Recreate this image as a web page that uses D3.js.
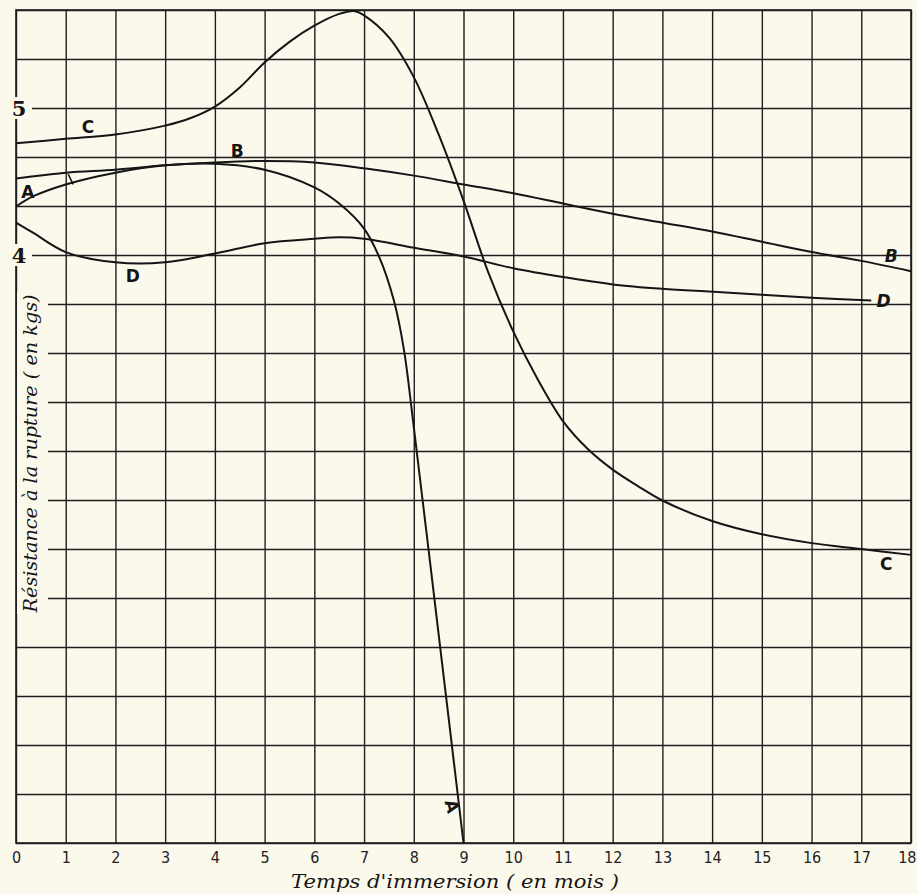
<!DOCTYPE html>
<html>
<head>
<meta charset="utf-8">
<script src="https://d3js.org/d3.v7.min.js"></script>
<style>
  body { margin: 0; background: #fbf9ec; }
  svg { display: block; }
  .grid line, .grid path { stroke: #1e1e1e; stroke-width: 1.4; }
  .curve { fill: none; stroke: #151515; stroke-width: 2; }
</style>
</head>
<body>
<div id="chart"></div>
<script>
//svg size
var svgWidth = 917;
var svgHeight = 894;

//plot box inside the svg
var margin = { top: 10, right: 6, bottom: 51, left: 16 };
var width = svgWidth - margin.left - margin.right;
var height = svgHeight - margin.top - margin.bottom;

//months on the x axis and the kg grid (every 1/3 kg)
var months = d3.range(0, 19);
var kgGrid = d3.range(0, 18).map(k => k / 3);
var kgLabels = [5, 4];

//curve A
var aMonths = [0, 0.35, 1, 2, 3, 4, 5, 6, 6.5, 7, 7.3, 7.6, 7.8, 8, 8.5, 9];
var aValues = [4.33, 4.40, 4.48, 4.56, 4.61, 4.62, 4.58, 4.46, 4.35, 4.18, 3.99, 3.69, 3.36, 2.83, 1.42, 0];

//curve B
var bMonths = d3.range(0, 19);
var bValues = [4.52, 4.56, 4.58, 4.61, 4.63, 4.64, 4.63, 4.59, 4.54, 4.48, 4.42, 4.35, 4.28, 4.22, 4.16, 4.09, 4.02, 3.96, 3.89];

//curve C
var cMonths = [0, 1, 2, 3, 3.5, 4, 4.5, 5, 5.5, 6, 6.5, 6.8, 7, 7.5, 8, 8.5, 9, 9.5, 10, 10.5, 11, 11.5, 12, 12.5, 13, 14, 15, 16, 17, 18];
var cValues = [4.76, 4.79, 4.82, 4.88, 4.93, 5.01, 5.14, 5.31, 5.45, 5.56, 5.64, 5.66, 5.63, 5.48, 5.21, 4.82, 4.37, 3.88, 3.48, 3.15, 2.87, 2.68, 2.54, 2.43, 2.33, 2.19, 2.10, 2.04, 2.00, 1.96];

//curve D
var dMonths = [0, 0.35, 1, 2, 3, 4, 5, 6, 6.5, 7, 8, 9, 10, 11, 12, 13, 14, 15, 16, 17.2];
var dValues = [4.22, 4.15, 4.02, 3.95, 3.95, 4.01, 4.08, 4.11, 4.12, 4.11, 4.05, 3.99, 3.91, 3.85, 3.80, 3.77, 3.75, 3.73, 3.71, 3.69];

//curve letters written on the chart
var letterText = ["A", "B", "C", "D", "B", "D", "C", "A"];
var letterMonth = [0.24, 4.45, 1.45, 2.35, 17.6, 17.45, 17.5, 8.77];
var letterValue = [4.43, 4.71, 4.87, 3.86, 3.99, 3.69, 1.9, 0.25];

var svg = d3.select("#chart")
    .append("svg")
    .attr("width", svgWidth)
    .attr("height", svgHeight);

svg.append("rect")
    .attr("width", svgWidth)
    .attr("height", svgHeight)
    .attr("fill", "#fbf9ec");

var chartGroup = svg.append("g")
    .attr("transform", `translate(${margin.left}, ${margin.top})`);

//scales
var xScale = d3.scaleLinear()
    .domain([0, 18])
    .range([0, width]);

var yScale = d3.scaleLinear()
    .domain([0, 17 / 3])
    .range([height, 0]);

//vertical grid + month labels
var bottomAxis = d3.axisBottom(xScale)
    .tickValues(months)
    .tickSize(-height)
    .tickPadding(9)
    .tickFormat(d3.format("d"));

var xAxis = chartGroup.append("g")
    .attr("class", "grid")
    .attr("transform", `translate(0, ${height})`)
    .call(bottomAxis);

xAxis.select(".domain").remove();
xAxis.selectAll("text")
    .attr("fill", "#222")
    .style("font-family", "'Liberation Sans Narrow', 'DejaVu Sans Condensed', sans-serif")
    .style("font-size", "16px");

//last label would fall off the page
xAxis.selectAll("text")
    .filter(d => d === 18)
    .attr("text-anchor", "end")
    .attr("dx", 5);

//horizontal grid
var leftAxis = d3.axisLeft(yScale)
    .tickValues(kgGrid)
    .tickSize(-width)
    .tickFormat("");

var yAxis = chartGroup.append("g")
    .attr("class", "grid")
    .call(leftAxis);

yAxis.select(".domain").remove();

//frame
chartGroup.append("rect")
    .attr("width", width)
    .attr("height", height)
    .attr("fill", "none")
    .attr("stroke", "#1e1e1e")
    .attr("stroke-width", 1.6);

//curves
var line = d3.line()
    .x(d => xScale(d[0]))
    .y(d => yScale(d[1]))
    .curve(d3.curveCatmullRom.alpha(0.5));

var curves = [
    d3.zip(aMonths, aValues),
    d3.zip(bMonths, bValues),
    d3.zip(cMonths, cValues),
    d3.zip(dMonths, dValues)
];

chartGroup.selectAll(".curve")
    .data(curves)
    .enter()
    .append("path")
    .attr("class", "curve")
    .attr("d", line);

//little pointer from B down to A near month 1
chartGroup.append("line")
    .attr("x1", xScale(1.05))
    .attr("y1", yScale(4.55))
    .attr("x2", xScale(1.15))
    .attr("y2", yScale(4.48))
    .attr("stroke", "#151515")
    .attr("stroke-width", 1.5);

//curve letters
chartGroup.selectAll(".letter")
    .data(letterText)
    .enter()
    .append("text")
    .attr("class", "letter")
    .attr("transform", (d, i) => `translate(${xScale(letterMonth[i])}, ${yScale(letterValue[i])})` + (i === 7 ? " rotate(75)" : ""))
    .attr("text-anchor", "middle")
    .attr("dy", "0.35em")
    .style("font-family", "'DejaVu Sans', sans-serif")
    .style("font-weight", "bold")
    .style("font-style", (d, i) => i >= 4 && i <= 5 ? "italic" : "normal")
    .style("font-size", "17px")
    .attr("fill", "#151515")
    .text(d => d);

//kg labels sit on the left edge with a paper patch behind
var kgGroup = chartGroup.selectAll(".kg")
    .data(kgLabels)
    .enter()
    .append("g")
    .attr("class", "kg")
    .attr("transform", d => `translate(0, ${yScale(d)})`);

kgGroup.append("rect")
    .attr("x", -6)
    .attr("y", -11)
    .attr("width", 22)
    .attr("height", 22)
    .attr("fill", "#fbf9ec");

kgGroup.append("text")
    .attr("x", 3)
    .attr("dy", "0.36em")
    .attr("text-anchor", "middle")
    .style("font-family", "'DejaVu Serif', serif")
    .style("font-weight", "bold")
    .style("font-size", "21px")
    .attr("fill", "#151515")
    .text(d => d);

//y title, on a paper patch that breaks the grid lines
chartGroup.append("rect")
    .attr("x", 1)
    .attr("y", 282)
    .attr("width", 31)
    .attr("height", 322)
    .attr("fill", "#fbf9ec");

chartGroup.append("text")
    .attr("transform", `translate(21, ${yScale(2.65)}) rotate(-90)`)
    .attr("text-anchor", "middle")
    .attr("textLength", 318)
    .attr("lengthAdjust", "spacingAndGlyphs")
    .style("font-family", "'DejaVu Serif', serif")
    .style("font-style", "italic")
    .style("font-size", "19px")
    .attr("fill", "#151515")
    .text("Résistance à la rupture ( en kgs)");

//x title
svg.append("text")
    .attr("x", 455)
    .attr("y", 888)
    .attr("text-anchor", "middle")
    .attr("textLength", 328)
    .attr("lengthAdjust", "spacingAndGlyphs")
    .style("font-family", "'DejaVu Serif', serif")
    .style("font-style", "italic")
    .style("font-size", "18px")
    .attr("fill", "#151515")
    .text("Temps d'immersion  ( en mois )");
</script>
</body>
</html>
